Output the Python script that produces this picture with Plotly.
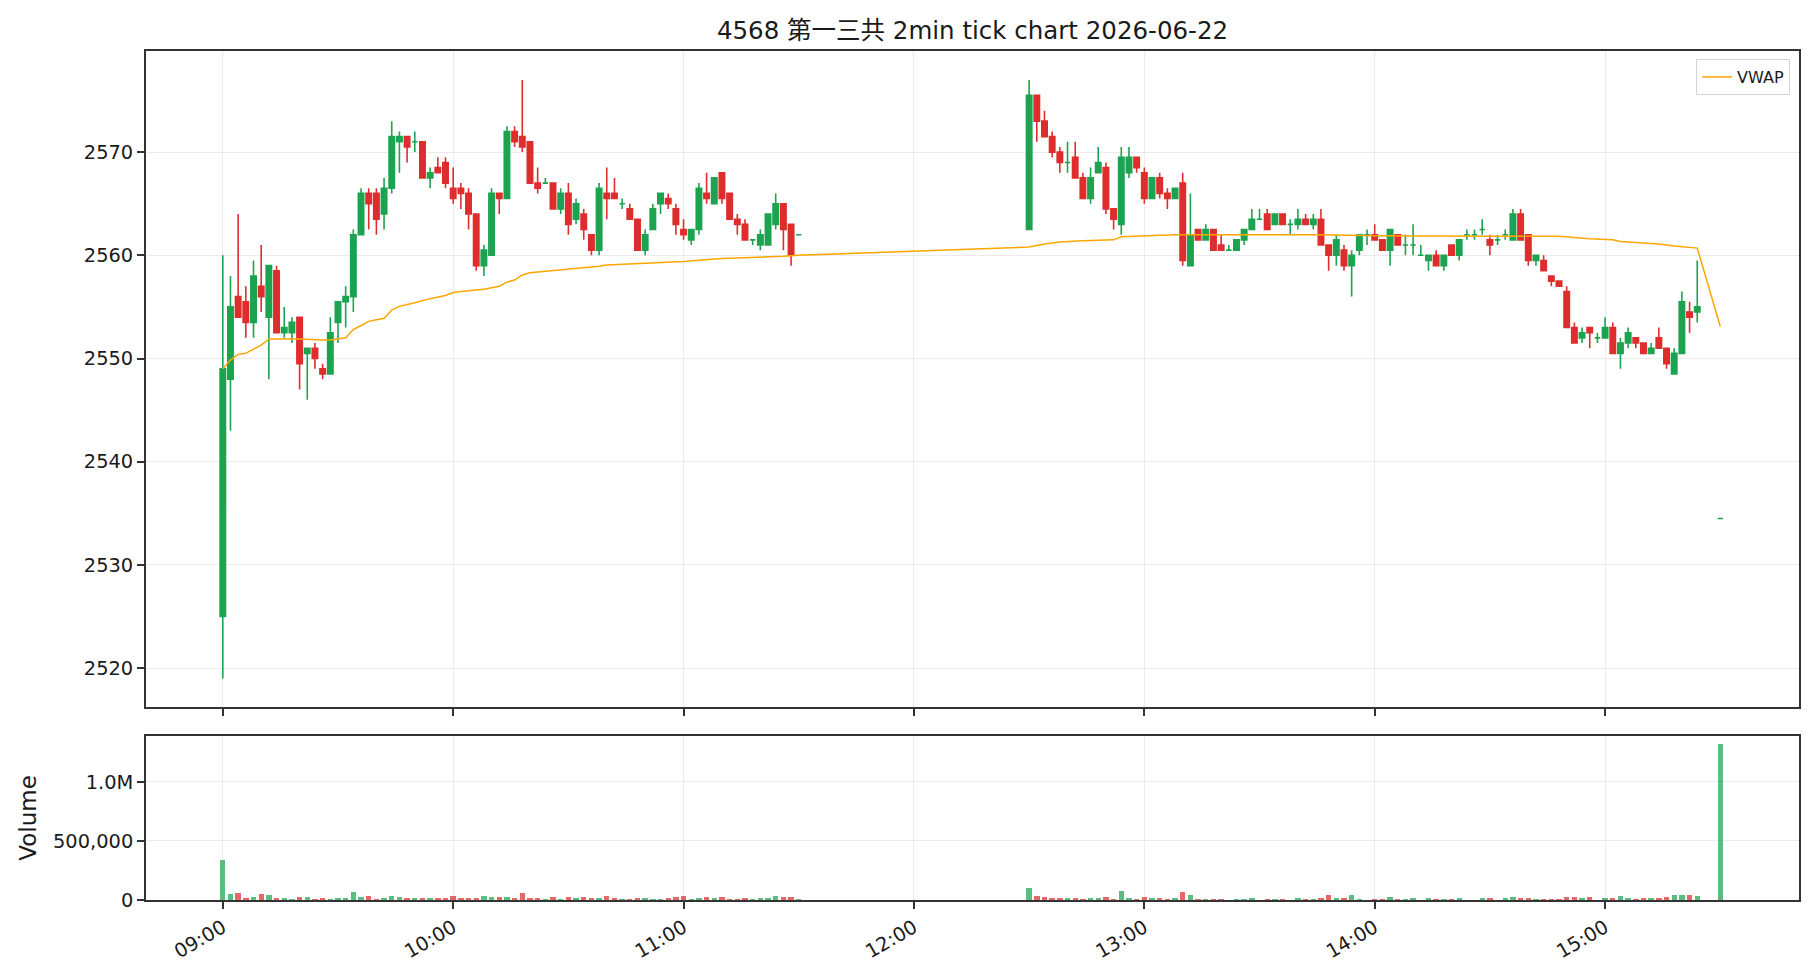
import pandas as pd
import plotly.graph_objects as go

TITLE = "4568 第一三共 2min tick chart 2026-06-22"
DATE = "2026-06-22"

# Sessions (2-minute bars)
am_start, am_end = "09:00", "11:30"
pm_start, pm_end = "12:30", "15:24"
close_auction = "15:30"

open_ = [
    2525, 2548, 2556, 2555.5, 2553.5, 2557, 2554, 2558.5, 2552.5, 2552.5,
    2554, 2550.5, 2551, 2549, 2548.5, 2553.5, 2555.5, 2556, 2562, 2566,
    2566, 2564, 2566.5, 2571, 2571.5, 2571, 2571, 2567.5, 2568.5, 2569,
    2566.5, 2566.5, 2566, 2564, 2559, 2560, 2566, 2565.5, 2572, 2571.5,
    2571, 2567, 2567, 2567, 2564.5, 2566, 2563.5, 2564, 2562, 2560.5,
    2566, 2566, 2565, 2564.5, 2563.5, 2560.5, 2562.5, 2565, 2565.5, 2564.5,
    2562.5, 2561.5, 2562.5, 2566, 2565, 2568, 2566, 2563.5, 2563, 2561.5,
    2561, 2561, 2563, 2565, 2563, 2562,
    2562.5, 2575.5, 2573, 2571.5, 2570, 2569, 2569.5, 2567.5, 2565.5, 2568,
    2568.5, 2564.5, 2563, 2568, 2569.5, 2568, 2565.5, 2567.5, 2566, 2565.5,
    2567, 2559, 2562.5, 2561.5, 2562.5, 2561, 2560.5, 2560.5, 2561.5, 2562.5,
    2563.5, 2564, 2563, 2564, 2563, 2563, 2563.5, 2563, 2563.5, 2561,
    2560, 2560.5, 2559, 2560.5, 2562, 2562, 2561.5, 2560.5, 2562, 2561,
    2561, 2560, 2559.5, 2560, 2559, 2561, 2560, 2562, 2562, 2562.5,
    2561.5, 2561.5, 2562, 2561.5, 2564, 2562, 2559.5, 2559.5, 2558, 2557.5,
    2556.5, 2553, 2552, 2553, 2552, 2552, 2553, 2550.5, 2551.5, 2552,
    2551.5, 2550.5, 2552, 2551, 2548.5, 2550.5, 2554.5, 2554.5,
    2534.5,
]
high = [
    2560, 2558, 2564, 2557, 2559.5, 2561, 2559, 2559, 2555, 2554,
    2554, 2551, 2551.5, 2549.5, 2554, 2555.5, 2557, 2562.5, 2566.5, 2566.5,
    2566.5, 2567.5, 2573, 2572, 2571.5, 2572, 2571, 2568.5, 2569.5, 2569.5,
    2568.5, 2567, 2566.5, 2564, 2561, 2566.5, 2566, 2572.5, 2572.5, 2577,
    2571, 2568.5, 2567.5, 2567, 2566.5, 2567, 2565.5, 2564.5, 2562, 2567,
    2568.5, 2567.5, 2565.5, 2565, 2563.5, 2562.5, 2565, 2566, 2566, 2565,
    2563.5, 2562.5, 2567, 2568, 2567.5, 2568, 2566, 2564, 2563.5, 2561.5,
    2562.5, 2564, 2566, 2565, 2563, 2562,
    2577, 2575.5, 2574, 2572, 2570.5, 2571, 2571, 2568, 2568.5, 2570.5,
    2569, 2564.5, 2570.5, 2570.5, 2569.5, 2568.5, 2567.5, 2568, 2566.5, 2566.5,
    2568, 2566, 2562.5, 2563, 2562.5, 2562, 2561, 2561.5, 2562.5, 2564.5,
    2564.5, 2564.5, 2564, 2564, 2563.5, 2564.5, 2564, 2564, 2564.5, 2561,
    2562, 2561, 2560.5, 2562, 2562.5, 2563, 2561.5, 2562.5, 2562, 2562,
    2563, 2561, 2560, 2560.5, 2560, 2561, 2561.5, 2562.5, 2562.5, 2563.5,
    2562, 2562, 2562.5, 2564.5, 2564.5, 2562, 2560, 2560, 2558, 2557.5,
    2557, 2553.5, 2553, 2553, 2552.5, 2554, 2553.5, 2552, 2553, 2552,
    2551.5, 2551.5, 2553, 2551, 2551, 2556.5, 2555.5, 2559.5,
    2534.5,
]
low = [
    2519, 2543, 2554, 2552, 2552, 2554.5, 2548, 2552.5, 2552, 2551.5,
    2547, 2546, 2549, 2548, 2548.5, 2551.5, 2553, 2554.5, 2562, 2562.5,
    2562, 2562.5, 2566, 2568, 2569, 2570, 2567.5, 2566.5, 2568, 2566.5,
    2565, 2564.5, 2562.5, 2558.5, 2558, 2560, 2564, 2565.5, 2570.5, 2570,
    2567, 2566, 2567, 2564.5, 2564, 2562, 2563, 2561.5, 2560, 2560,
    2563.5, 2565.5, 2564.5, 2563.5, 2560.5, 2560, 2562.5, 2564, 2564.5, 2562,
    2561.5, 2561, 2562, 2565, 2565, 2565, 2563.5, 2562, 2561.5, 2561,
    2560.5, 2561, 2562.5, 2560.5, 2559, 2562,
    2562.5, 2571, 2571.5, 2569.5, 2568, 2568, 2567.5, 2565.5, 2565, 2568,
    2564, 2562.5, 2562, 2567.5, 2568, 2565, 2565.5, 2565.5, 2564.5, 2565.5,
    2559, 2559, 2561.5, 2561.5, 2560.5, 2560.5, 2560.5, 2560.5, 2561, 2562.5,
    2563.5, 2562.5, 2563, 2563, 2562, 2562.5, 2563, 2562.5, 2561, 2558.5,
    2559, 2558.5, 2556, 2560, 2561, 2561.5, 2560.5, 2559, 2561, 2560,
    2560, 2560, 2558.5, 2559, 2558.5, 2560, 2559.5, 2561.5, 2561.5, 2562,
    2560, 2561, 2561.5, 2561.5, 2561.5, 2559, 2559, 2558.5, 2557, 2557,
    2553, 2551.5, 2551.5, 2551, 2551.5, 2552, 2550.5, 2549, 2551, 2551,
    2550.5, 2550.5, 2551, 2549, 2548.5, 2550.5, 2552.5, 2553.5,
    2534.5,
]
close = [
    2549, 2555, 2554, 2553.5, 2558, 2556, 2559, 2552.5, 2553, 2553.5,
    2549.5, 2551, 2550, 2548.5, 2552.5, 2555.5, 2556, 2562, 2566, 2565,
    2563.5, 2566.5, 2571.5, 2571.5, 2570.5, 2571, 2567.5, 2568, 2568, 2567,
    2565.5, 2566, 2564, 2559, 2560.5, 2566, 2565.5, 2572, 2571, 2570.5,
    2567, 2566.5, 2567, 2564.5, 2566, 2563, 2565, 2562.5, 2560.5, 2566.5,
    2565.5, 2565.5, 2565, 2563.5, 2560.5, 2562, 2564.5, 2566, 2565, 2563,
    2562, 2562.5, 2566.5, 2565.5, 2567.5, 2565.5, 2563.5, 2563, 2561.5, 2561.5,
    2562, 2564, 2565, 2562.5, 2560, 2562,
    2575.5, 2573, 2571.5, 2570, 2569, 2569, 2567.5, 2565.5, 2567.5, 2569,
    2564.5, 2563.5, 2569.5, 2569.5, 2568.5, 2565.5, 2567.5, 2566, 2565.5, 2566.5,
    2559.5, 2562, 2561.5, 2562.5, 2560.5, 2560.5, 2560.5, 2561.5, 2562.5, 2563.5,
    2563.5, 2562.5, 2564, 2563, 2563, 2563.5, 2563, 2563.5, 2561, 2560,
    2561.5, 2559, 2560, 2562, 2562, 2561.5, 2560.5, 2562.5, 2561, 2561,
    2561, 2560, 2560, 2559, 2560, 2560, 2561.5, 2562, 2562, 2562.5,
    2561, 2561.5, 2562, 2564, 2561.5, 2559.5, 2560, 2558.5, 2557.5, 2557,
    2553, 2551.5, 2552.5, 2552.5, 2552, 2553, 2550.5, 2551.5, 2552.5, 2551.5,
    2550.5, 2551, 2551, 2549.5, 2550.5, 2555.5, 2554, 2555,
    2534.5,
]
volume = [
    337000, 50000, 59000, 17000, 25000, 50000, 42000, 17000, 17000, 8000,
    25000, 25000, 8000, 17000, 8000, 17000, 17000, 67000, 25000, 34000,
    8000, 17000, 34000, 25000, 17000, 17000, 17000, 17000, 17000, 17000,
    34000, 17000, 17000, 17000, 34000, 25000, 25000, 25000, 17000, 59000,
    17000, 17000, 8000, 25000, 8000, 25000, 17000, 25000, 17000, 17000,
    34000, 17000, 5000, 8000, 17000, 17000, 8000, 8000, 17000, 25000,
    34000, 8000, 17000, 25000, 17000, 25000, 8000, 8000, 17000, 5000,
    17000, 17000, 34000, 25000, 25000, 5000,
    101000, 34000, 25000, 17000, 17000, 17000, 17000, 8000, 17000, 17000,
    25000, 5000, 76000, 17000, 5000, 25000, 17000, 17000, 5000, 17000,
    67000, 42000, 5000, 5000, 5000, 5000, 3000, 5000, 5000, 17000,
    3000, 5000, 5000, 5000, 3000, 17000, 5000, 5000, 17000, 42000,
    17000, 17000, 42000, 5000, 3000, 5000, 5000, 25000, 5000, 5000,
    17000, 3000, 17000, 5000, 5000, 5000, 17000, 3000, 3000, 17000,
    17000, 3000, 17000, 25000, 17000, 17000, 5000, 5000, 5000, 5000,
    25000, 25000, 17000, 25000, 3000, 17000, 17000, 34000, 17000, 5000,
    17000, 17000, 17000, 25000, 42000, 42000, 42000, 34000,
    1323000,
]

vwap_times = [
    "09:00", "09:02", "09:04", "09:06", "09:08", "09:10", "09:12", "09:14", "09:20", "09:26",
    "09:28", "09:32", "09:34", "09:36", "09:38", "09:40", "09:42", "09:44", "09:46", "09:50",
    "09:54", "09:58", "10:00", "10:02", "10:06", "10:08", "10:12", "10:14", "10:16", "10:18",
    "10:20", "10:26", "10:30", "10:36", "10:38", "10:40", "11:00", "11:10", "11:22", "11:26",
    "11:30", "12:30", "12:34", "12:38", "12:44", "12:52", "12:54", "13:00", "13:08", "13:46",
    "14:00", "14:30", "14:48", "14:56", "15:02", "15:04", "15:14", "15:18", "15:24", "15:30",
]
vwap_values = [
    2549.0, 2549.85, 2550.4, 2550.5, 2550.9, 2551.3, 2551.9, 2551.9, 2551.9, 2551.8,
    2551.8, 2552.0, 2552.8, 2553.2, 2553.6, 2553.75, 2553.9, 2554.7, 2555.05, 2555.4,
    2555.8, 2556.1, 2556.4, 2556.5, 2556.6, 2556.7, 2557.0, 2557.4, 2557.6, 2558.1,
    2558.3, 2558.5, 2558.7, 2558.85, 2558.95, 2559.05, 2559.4, 2559.7, 2559.8, 2559.9,
    2560.0, 2560.8, 2561.1, 2561.3, 2561.4, 2561.5, 2561.8, 2561.9, 2562.0, 2562.0,
    2561.9, 2561.85, 2561.85, 2561.6, 2561.5, 2561.35, 2561.1, 2560.9, 2560.7, 2553.1,
]

price_ticks = [2520, 2530, 2540, 2550, 2560, 2570]
vol_ticks = [0, 500000, 1000000]
vol_tick_text = ["0", "500,000", "1.0M"]
hour_ticks = ["09:00", "10:00", "11:00", "12:00", "13:00", "14:00", "15:00"]

# ---------------------------------------------------------------
times = (
    list(pd.date_range(f"{DATE} {am_start}", f"{DATE} {am_end}", freq="2min"))
    + list(pd.date_range(f"{DATE} {pm_start}", f"{DATE} {pm_end}", freq="2min"))
    + [pd.Timestamp(f"{DATE} {close_auction}")]
)
assert len(times) == len(open_) == len(high) == len(low) == len(close) == len(volume)

GREEN = "#1ca350"
RED = "#de2d2d"
GREEN_V = "rgba(28,163,80,0.72)"
RED_V = "rgba(222,45,45,0.72)"

up = [i for i in range(len(times)) if close[i] >= open_[i]]
dn = [i for i in range(len(times)) if close[i] < open_[i]]

def pick(arr, idx):
    return [arr[i] for i in idx]

fig = go.Figure()
for idx, col in ((up, GREEN), (dn, RED)):
    fig.add_trace(go.Candlestick(
        x=pick(times, idx), open=pick(open_, idx), high=pick(high, idx),
        low=pick(low, idx), close=pick(close, idx),
        increasing=dict(line=dict(color=col, width=1.6), fillcolor=col),
        decreasing=dict(line=dict(color=col, width=1.6), fillcolor=col),
        whiskerwidth=0, showlegend=False, xaxis="x", yaxis="y",
        hoverinfo="skip",
    ))

fig.add_trace(go.Scatter(
    x=[pd.Timestamp(f"{DATE} {t}") for t in vwap_times], y=vwap_values,
    mode="lines", line=dict(color="#FFA500", width=1.5), name="VWAP",
    xaxis="x", yaxis="y",
))

vcolors = [GREEN_V if close[i] >= open_[i] else RED_V for i in range(len(times))]
fig.add_trace(go.Bar(
    x=times, y=volume, marker=dict(color=vcolors, line=dict(width=0)),
    width=84000, showlegend=False, xaxis="x2", yaxis="y2",
))

x_range = [f"{DATE} 08:40:00", f"{DATE} 15:50:30"]
hour_vals = [f"{DATE} {h}" for h in hour_ticks]
AX = "#333333"
GRID = "#ebebeb"

common_x = dict(
    type="date", range=x_range, tickvals=hour_vals, ticktext=hour_ticks,
    showgrid=True, gridcolor=GRID, gridwidth=1.3,
    showline=True, linecolor=AX, linewidth=1.8, mirror=True,
    ticks="outside", ticklen=7, tickwidth=1.6, tickcolor=AX,
    zeroline=False,
)
common_y = dict(
    showgrid=True, gridcolor=GRID, gridwidth=1.3,
    showline=True, linecolor=AX, linewidth=1.8, mirror=True,
    ticks="outside", ticklen=7, tickwidth=1.6, tickcolor=AX,
    zeroline=False,
)

FONT = "DejaVu Sans, Noto Sans CJK JP, sans-serif"

fig.update_layout(
    width=1820, height=980,
    margin=dict(l=146, r=21, t=51, b=80),
    paper_bgcolor="white", plot_bgcolor="white",
    font=dict(family=FONT, size=19.4, color="#1a1a1a"),
    title=dict(text=TITLE, x=0.5, xref="paper", xanchor="center",
               y=1 - 30 / 980, yref="container", yanchor="middle",
               font=dict(family=FONT, size=24.5, color="#1a1a1a")),
    boxgap=0.3, boxgroupgap=0, boxmode="overlay",
    bargap=0,
    xaxis=dict(**common_x, domain=[0, 1], anchor="y", showticklabels=False,
               rangeslider=dict(visible=False)),
    xaxis2=dict(**common_x, domain=[0, 1], anchor="y2", matches="x",
                showticklabels=True, tickangle=-30),
    yaxis=dict(**common_y, domain=[0.227, 1], range=[2516.2, 2579.8],
               tickvals=price_ticks, anchor="x"),
    yaxis2=dict(**common_y, domain=[0, 0.1932], range=[0, 1387000],
                tickvals=vol_ticks, ticktext=vol_tick_text, anchor="x2",
                title=dict(text="Volume", standoff=10)),
    legend=dict(x=0.9946, y=0.9906, xanchor="right", yanchor="top",
                bgcolor="rgba(255,255,255,0.85)", bordercolor="#d4d4d4",
                borderwidth=1, font=dict(size=16), itemwidth=30,
                tracegroupgap=0),
    showlegend=True,
)

fig.write_html("out.html")
